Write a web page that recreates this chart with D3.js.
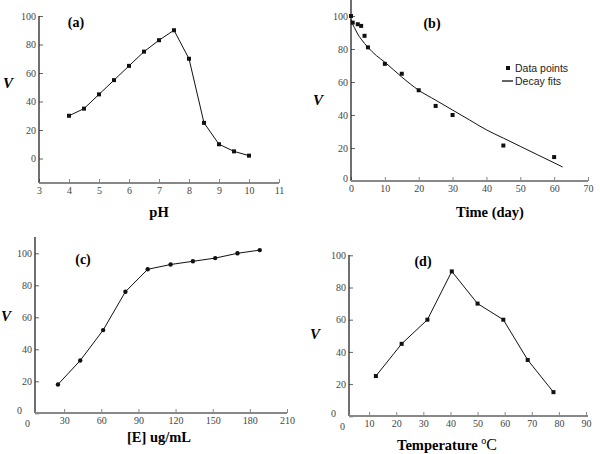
<!DOCTYPE html>
<html><head><meta charset="utf-8">
<script src="https://cdn.jsdelivr.net/npm/d3@7"></script>
<style>body{margin:0;background:#fff}</style>
</head><body><svg id="c" width="600" height="454"></svg>
<script>
// Panel (a): pH
const phX = [4, 4.5, 5, 5.5, 6, 6.5, 7, 7.5, 8, 8.5, 9, 9.5, 10];
const phV = [30, 35, 45, 55, 65, 75, 83, 90, 70, 25, 10, 5, 2];
const phTicksX = [3, 4, 5, 6, 7, 8, 9, 10, 11];
const phTicksY = [0, 20, 40, 60, 80, 100];
// Panel (b): time
const timePtsX = [0, 0.5, 2, 3, 4, 5, 10, 15, 20, 25, 30, 45, 60];
const timePtsV = [100, 96, 95, 94, 88, 81, 71, 65, 55, 45.5, 40, 21.5, 14.5];
const fitX = [0, 0.5, 1, 2, 3, 5, 7.5, 10, 15, 20, 25, 30, 35, 40, 45, 50, 55, 60, 62.5];
const fitV = [98, 95, 93, 89, 86, 81, 76, 72, 63, 55, 49, 43, 37, 31, 26, 21, 16, 11, 8.5];
const timeTicksX = [0, 10, 20, 30, 40, 50, 60, 70];
const timeTicksY = [0, 20, 40, 60, 80, 100];
const legendLabels = ["Data points", "Decay fits"];
// Panel (c): enzyme concentration
const eX = [25, 43, 61.5, 79.5, 97.5, 116, 134, 152, 170, 188];
const eV = [18, 33, 52, 76, 90, 93, 95, 97, 100, 102];
const eTicksX = [0, 30, 60, 90, 120, 150, 180, 210];
const eTicksY = [0, 20, 40, 60, 80, 100];
// Panel (d): temperature
const tempX = [12.5, 22, 31.5, 40.5, 50, 59.5, 68.5, 78];
const tempV = [25, 45, 60, 90, 70, 60, 35, 15];
const tempTicksX = [0, 10, 20, 30, 40, 50, 60, 70, 80, 90];
const tempTicksY = [0, 20, 40, 60, 80, 100];

const svg = d3.select("#c");
const SERIF = "'Liberation Serif','Times New Roman',serif";
const SANS = "'Liberation Sans',Arial,sans-serif";

function panel(o) {
  const g = svg.append("g");
  const x = d3.scaleLinear().domain(o.xd).range(o.xr);
  const y = d3.scaleLinear().domain(o.yd).range(o.yr);
  const hasZ = o.zeroShift !== undefined;
  // x axis ticks
  const xa = g.append("g").attr("transform", `translate(0,${o.axisY})`)
    .call(d3.axisBottom(x).tickValues(o.xt).tickSizeInner(-4).tickSizeOuter(0).tickPadding(4));
  xa.select(".domain").remove();
  xa.attr("font-family", null);
  xa.selectAll(".tick line").attr("stroke", "#888")
    .attr("opacity", d => (x(d) < o.axisX - 0.5 ? 0 : 1));
  xa.selectAll(".tick text").style("font-family", SERIF).style("font-size", "10px").attr("fill", "#444")
    .attr("dy", d => (d === 0 && hasZ && o.zeroShift > 0 ? "1.0em" : "0.71em"));
  // y axis ticks
  const ya = g.append("g").attr("transform", `translate(${o.axisX},0)`)
    .call(d3.axisLeft(y).tickValues(o.yt).tickSizeInner(-4).tickSizeOuter(0).tickPadding(3));
  ya.select(".domain").remove();
  ya.attr("font-family", null);
  ya.selectAll(".tick line").attr("stroke", "#666");
  ya.selectAll(".tick text").style("font-family", SERIF).style("font-size", "10px").attr("fill", "#444")
    .attr("dx", d => (d === 0 && hasZ ? -o.zeroShift : 0))
    .attr("dy", d => (d === 0 && hasZ ? "0.0em" : "0.32em"));
  // axis lines
  g.append("line").attr("x1", o.axisX).attr("x2", o.axisX).attr("y1", o.yTop).attr("y2", o.axisY)
    .attr("stroke", "#222").attr("stroke-width", 1.3);
  g.append("line").attr("x1", o.axisX).attr("x2", o.xEnd).attr("y1", o.axisY).attr("y2", o.axisY)
    .attr("stroke", "#888").attr("stroke-width", 2);
  // panel letter
  g.append("text").attr("x", o.tag[0]).attr("y", o.tag[1]).attr("text-anchor", "middle")
    .style("font-family", SERIF).attr("font-weight", "bold").attr("font-size", 14).text(o.tag[2]);
  // V label
  g.append("text").attr("x", o.vl[0]).attr("y", o.vl[1]).attr("text-anchor", "middle")
    .style("font-family", SERIF).attr("font-weight", "bold").attr("font-style", "italic")
    .attr("font-size", 15).text("V");
  // x title
  const t = g.append("text").attr("x", o.xl[0]).attr("y", o.xl[1]).attr("text-anchor", "middle")
    .style("font-family", SERIF).attr("font-weight", "bold").attr("font-size", 14.5);
  o.xl[2](t);
  return {g, x, y};
}

function series(p, xs, vs, shape) {
  const line = d3.line().x((d, i) => p.x(xs[i])).y((d, i) => p.y(vs[i]));
  p.g.append("path").attr("d", line(xs)).attr("fill", "none").attr("stroke", "#111").attr("stroke-width", 1);
  if (shape === "circle") {
    p.g.selectAll(null).data(xs).join("circle")
      .attr("cx", d => p.x(d)).attr("cy", (d, i) => p.y(vs[i])).attr("r", 2.2).attr("fill", "#111");
  } else {
    p.g.selectAll(null).data(xs).join("rect")
      .attr("x", d => p.x(d) - 2).attr("y", (d, i) => p.y(vs[i]) - 2)
      .attr("width", 4).attr("height", 4).attr("fill", "#111");
  }
}

// (a)
const pa = panel({xd: [3, 11], xr: [39, 279], yd: [0, 100], yr: [158.5, 16], xt: phTicksX, yt: phTicksY,
  axisX: 39, axisY: 183, yTop: 16, xEnd: 279, tag: [76, 27, "(a)"], vl: [8, 88],
  xl: [159, 217, t => t.text("pH")]});
series(pa, phX, phV, "square");

// (b)
const pb = panel({xd: [0, 70], xr: [351, 588], yd: [0, 100], yr: [181, 16], xt: timeTicksX, yt: timeTicksY,
  axisX: 351, axisY: 181, yTop: 0, xEnd: 588, tag: [432, 28, "(b)"], vl: [318, 105],
  xl: [490, 217, t => t.text("Time (day)")], zeroShift: 0});
{
  const line = d3.line().curve(d3.curveMonotoneX).x((d, i) => pb.x(fitX[i])).y((d, i) => pb.y(fitV[i]));
  pb.g.append("path").attr("d", line(fitX)).attr("fill", "none").attr("stroke", "#111").attr("stroke-width", 1);
  pb.g.selectAll(null).data(timePtsX).join("rect")
    .attr("x", d => pb.x(d) - 2).attr("y", (d, i) => pb.y(timePtsV[i]) - 2)
    .attr("width", 4).attr("height", 4).attr("fill", "#111");
  const lg = pb.g.append("g");
  lg.append("rect").attr("x", 506).attr("y", 66).attr("width", 4).attr("height", 4).attr("fill", "#111");
  lg.append("line").attr("x1", 502).attr("x2", 513).attr("y1", 81).attr("y2", 81).attr("stroke", "#111").attr("stroke-width", 1.3);
  lg.selectAll(null).data(legendLabels).join("text")
    .attr("x", 515).attr("y", (d, i) => 72 + i * 13)
    .style("font-family", SANS).attr("font-size", 10.5).attr("fill", "#222").text(d => d);
}

// (c)
const pc = panel({xd: [0, 210], xr: [27, 287], yd: [0, 100], yr: [413.3, 253.3], xt: eTicksX, yt: eTicksY,
  axisX: 35, axisY: 413, yTop: 237, xEnd: 287, tag: [83, 264, "(c)"], vl: [6, 321],
  xl: [159, 442, t => t.text("[E] ug/mL")], zeroShift: 10});
series(pc, eX, eV, "circle");

// (d)
const pd = panel({xd: [0, 90], xr: [342, 586], yd: [0, 100], yr: [416.3, 255.3], xt: tempTicksX, yt: tempTicksY,
  axisX: 349, axisY: 416, yTop: 255, xEnd: 588, tag: [423, 266, "(d)"], vl: [315, 339],
  xl: [447, 450, t => {
    t.append("tspan").text("Temperature ");
    t.append("tspan").attr("font-size", 10).attr("font-weight", "normal").attr("dy", -6).text("o");
    t.append("tspan").attr("dy", 6).attr("font-weight", "normal").attr("font-size", 16).text("C");
  }], zeroShift: 10});
series(pd, tempX, tempV, "square");
</script></body></html>
